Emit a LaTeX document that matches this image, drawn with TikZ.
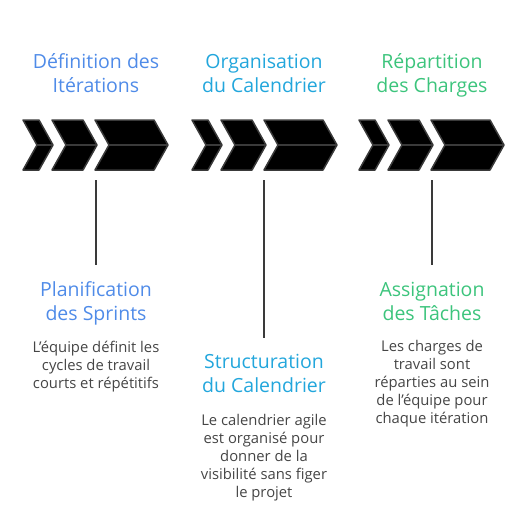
\documentclass[tikz,border=0pt]{standalone}
\usepackage{fontspec}
\setmainfont{Open Sans}
\usepackage{tikz}
\usetikzlibrary{arrows.meta}
\definecolor{defblue}{HTML}{4F8BE8}
\definecolor{calblue}{HTML}{22A6DC}
\definecolor{chggreen}{HTML}{3CC47C}
\definecolor{txtgray}{HTML}{454545}
\definecolor{chevline}{HTML}{3A3A3A}
\newcommand{\chevron}[2]{%
  \draw[chev] (#1,120) -- (#2-14,120) -- (#2,145) -- (#2-14,170) -- (#1,170) -- (#1+14,145) -- cycle;
  \draw[chev] (#1+14,145) -- (#2,145);}
\newcommand{\chevrongroup}[1]{%
  \chevron{23+#1}{53+#1}
  \chevron{52+#1}{97+#1}
  \chevron{95+#1}{168+#1}}

\begin{document}
\begin{tikzpicture}[x=1pt, y=-1pt,
  chev/.style={draw=chevline, line width=1.5pt, fill=black, line join=round},
  title/.style={align=center, anchor=base, font=\fontsize{19.5}{24}\selectfont, inner sep=0pt},
  desc/.style={align=center, anchor=base, text=txtgray, font=\fontsize{14.8}{17.8}\selectfont, inner sep=0pt},
  stem/.style={draw=chevline, line width=1.5pt}]
\useasboundingbox (0,0) rectangle (528,523);

% Chevrons
\chevrongroup{0}
\chevrongroup{169}
\chevrongroup{336}

% Top titles
\node (T1) [title, text=defblue] at (96, 92) {Définition des\\Itérations};
\node (T2) [title, text=calblue] at (264, 92) {Organisation\\du Calendrier};
\node (T3) [title, text=chggreen] at (432, 92) {Répartition\\des Charges};

% Sub titles
\node (S1) [title, text=defblue] at (96, 320) {Planification\\des Sprints};
\node (S2) [title, text=calblue] at (264, 392) {Structuration\\du Calendrier};
\node (S3) [title, text=chggreen] at (432, 320) {Assignation\\des Tâches};

% Descriptions
\node (D1) [desc] at (96, 388) {L'équipe définit les\\cycles de travail\\courts et répétitifs};
\node (D2) [desc] at (264, 497) {Le calendrier agile\\est organisé pour\\donner de la\\visibilité sans figer\\le projet};
\node (D3) [desc] at (432, 423) {Les charges de\\travail sont\\réparties au sein\\de l'équipe pour\\chaque itération};

% Stems
\coordinate (A1) at (96, 180);
\coordinate (B1) at (96, 265);
\coordinate (A2) at (264, 180);
\coordinate (B2) at (264, 338);
\coordinate (A3) at (432, 180);
\coordinate (B3) at (432, 265);
\draw[stem] (A1) -- (B1);
\draw[stem] (A2) -- (B2);
\draw[stem] (A3) -- (B3);

\end{tikzpicture}
\end{document}
